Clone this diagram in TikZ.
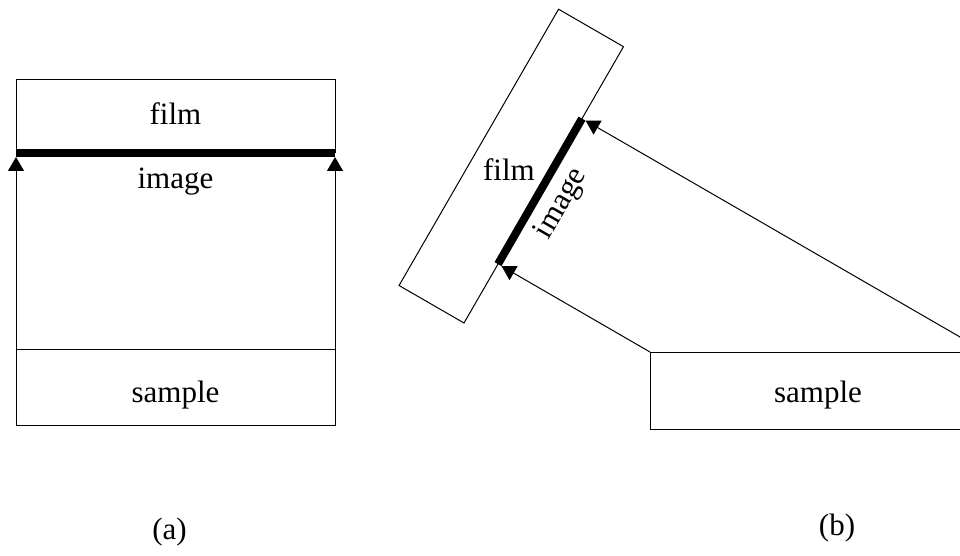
\documentclass[tikz,border=0pt]{standalone}
\usepackage{fontspec}
\setmainfont{Liberation Serif}
\usetikzlibrary{arrows.meta}
\begin{document}
\begin{tikzpicture}[x=1pt,y=-1pt,
  outline/.style={line width=1pt},
  ray/.style={line width=1pt,-{Triangle[width=16pt,length=14pt]}},
  imageline/.style={line width=8pt},
  lbl/.style={font=\fontsize{31}{36}\selectfont, inner sep=0pt, anchor=base},
  rlbl/.style={font=\fontsize{31}{36}\selectfont, inner sep=0pt, anchor=center, rotate=60},
]
\useasboundingbox (0,0) rectangle (960,556);
\clip (0,0) rectangle (960,556);
% ---------- (a) ----------
\coordinate (fa1) at (16,80);
\coordinate (fa2) at (335,153);
\coordinate (sa1) at (16,349);
\coordinate (sa2) at (335,349);
\coordinate (sa3) at (335,425);
\coordinate (ila) at (16,153);
\coordinate (ira) at (335,153);
\coordinate (ta1) at (16,157);
\coordinate (ta2) at (335,157);
\draw[outline] (fa1) rectangle (fa2);
\draw[outline] (sa1) rectangle (sa3);
\draw[imageline] (ila) -- (ira);
\draw[ray] (sa1) -- (ta1);
\draw[ray] (sa2) -- (ta2);
\node[lbl] (filma) at (175.5,125) {film};
\node[lbl] (imagea) at (175.5,188) {image};
\node[lbl] (samplea) at (175.5,402.7) {sample};
\node[lbl] (capa) at (169.5,539) {(a)};
% ---------- (b) ----------
\coordinate (fQ) at (464,323);
\coordinate (fR) at (623.5,46.7);
\coordinate (fT) at (558.55,9.2);
\coordinate (fL) at (399.05,285.5);
\draw[outline] (fQ) -- (fR) -- (fT) -- (fL) -- cycle;
\coordinate (ib1) at (498,264.1);
\coordinate (ib2) at (582,118.6);
\draw[imageline] (ib1) -- (ib2);
\coordinate (sb1) at (650,352);
\coordinate (sb2) at (986,352);
\coordinate (sb3) at (986,429);
\draw[outline] (sb1) rectangle (sb3);
\coordinate (tb1) at (501.5,266.1);
\coordinate (tb2) at (585.5,120.6);
\draw[ray] (sb1) -- (tb1);
\draw[ray] (sb2) -- (tb2);
\node[lbl] (filmb) at (509,180.7) {film};
\node[rlbl] (imageb) at (561.7,203.9) {image};
\node[lbl] (sampleb) at (818,402.7) {sample};
\node[lbl] (capb) at (837,535) {(b)};
\end{tikzpicture}
\end{document}
